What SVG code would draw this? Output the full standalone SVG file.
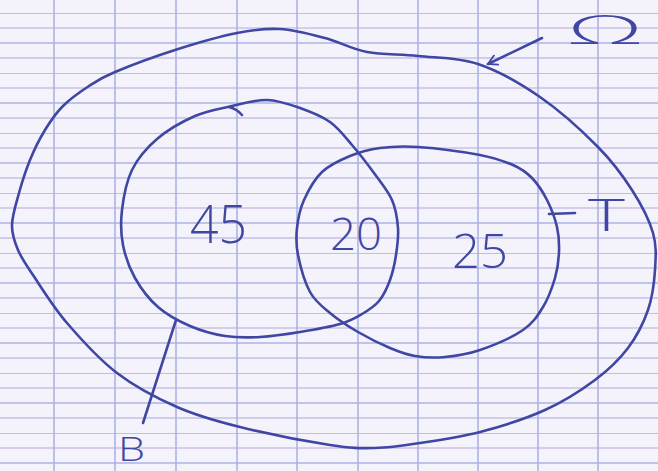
<svg xmlns="http://www.w3.org/2000/svg" width="658" height="471" viewBox="0 0 658 471">
<defs>
<pattern id="hgrid" x="0" y="13" width="658" height="60" patternUnits="userSpaceOnUse">
<line x1="0" y1="0" x2="658" y2="0" stroke="#a7aee2" stroke-width="1.6"/>
<line x1="0" y1="15" x2="658" y2="15" stroke="#c9c3e6" stroke-width="1.4"/>
<line x1="0" y1="30" x2="658" y2="30" stroke="#aeb3e3" stroke-width="1.5"/>
<line x1="0" y1="45" x2="658" y2="45" stroke="#c4c0e6" stroke-width="1.4"/>
</pattern>
<marker id="arrow" viewBox="0 0 12 12" refX="10" refY="6" markerWidth="12" markerHeight="12" markerUnits="userSpaceOnUse" orient="auto">
<path d="M1,1 L10,6 L1,11" fill="none" stroke="#3f47a3" stroke-width="1.8" stroke-linecap="round"/>
</marker>
</defs>
<style>
.ink{fill:none;stroke:#3f47a3;stroke-width:2.6;stroke-linecap:round;stroke-linejoin:round}
.lbl{fill:#3f47a3;font-family:"Open Sans","Lato","Roboto","DejaVu Sans",sans-serif;font-weight:300}
.v{stroke:#a9aee4;stroke-width:1.5}
</style>
<g id="paper">
<rect width="658" height="471" fill="#f4f2fb"/>
<rect width="658" height="471" fill="url(#hgrid)"/>
<line class="v" x1="54" y1="0" x2="54" y2="471"/>
<line class="v" x1="115" y1="0" x2="115" y2="471"/>
<line class="v" x1="176" y1="0" x2="176" y2="471"/>
<line class="v" x1="237" y1="0" x2="237" y2="471"/>
<line class="v" x1="297" y1="0" x2="297" y2="471"/>
<line class="v" x1="358" y1="0" x2="358" y2="471"/>
<line class="v" x1="418" y1="0" x2="418" y2="471"/>
<line class="v" x1="478" y1="0" x2="478" y2="471"/>
<line class="v" x1="538" y1="0" x2="538" y2="471"/>
<line class="v" x1="598" y1="0" x2="598" y2="471"/>
</g>
<g id="node-omega">
<path class="ink" d="M12,225 C12.2,215.5 16,203.8 19,193 S25.7,170.5 30,160 S39.5,139 45,130 S55.7,113.3 63,106 S80.3,91.7 89,86 S100.7,78 115,72 S154.7,56.5 175,50 S219.5,36.5 237,33 S265.3,28.2 280,29 S310.5,34.2 325,38 S351.5,49 367,52 S399.5,54 418,56 S457.7,57.2 478,64 S520,83.2 540,97 S582.7,131.5 598,147 S622.8,175.7 632,190 S649.2,219.7 653,233 S655.8,257.2 655,270 S652.5,297 648,310 S636.8,336.3 628,348 S608.8,369.7 595,380 S564.2,401.3 545,410 S500.8,426.5 480,432 S437.5,440.3 420,443 S390,447.7 375,448 S352.5,448.5 330,445 S265.5,433.3 240,427 S197.5,416 177,407 S135.3,387 117,373 S81,339.3 67,323 S41.2,287.2 33,275 S21.5,258.3 18,250 S11.8,234.5 12,225 Z"/>
</g>
<g id="node-B">
<path class="ink" d="M267,100 C278.3,100.3 289.5,104.3 300,108 S321.3,115.8 330,122 S344.7,136.5 352,145 S367.3,163.8 374,173 S388,190.8 392,200 S397.3,218.8 398,228 S397.3,246.3 396,255 S392.8,272.3 390,280 S383.7,295.3 379,301 S368.5,310.2 362,314 S350.3,321 340,324 S313.3,329.8 300,332 S272.5,336.3 260,337 S236.7,337.8 225,336 S201.2,330.8 190,326 S167.2,315 158,307 S140.8,288.3 135,278 S125.2,256.3 123,245 S120.5,222.5 122,210 S126.2,181.8 132,170 S146.5,148 157,139 S182.5,121.5 195,116 S220,108.7 232,106 S255.7,99.7 267,100 Z"/>
<path class="ink" d="M229,107 Q237,109 242,115" stroke-width="1.6"/>
</g>
<g id="node-T">
<path class="ink" d="M380,148 C391.3,146.5 401.3,145.8 418,147 S464.2,152 480,155 S504.3,161.2 513,165 S526.3,172.2 532,178 S542.8,191.8 547,200 S555,218.3 557,227 S559.3,243.5 559,252 S557.7,268.8 555,278 S548.3,298.3 543,307 S533.5,322.8 523,330 S493,345.5 480,350 S455.8,356 445,357 S424.2,357.5 415,356 S399.5,352 390,348 S368,337.8 358,332 S338,319.7 330,313 S315.3,301.7 310,292 S300.2,265.7 298,255 S296,237.2 297,228 S299.8,209.3 304,200 S314.3,179.3 322,172 S340.3,160 350,156 S368.7,149.5 380,148 Z"/>
</g>
<g id="connectors">
<line class="ink" x1="542" y1="38" x2="488" y2="64" marker-end="url(#arrow)" stroke-width="2.2"/>
<line class="ink" x1="549" y1="214" x2="575" y2="213" stroke-width="2.4"/>
<line class="ink" x1="176" y1="320" x2="143" y2="423" stroke-width="2.4"/>
</g>
<g id="labels">
<text class="lbl" x="190" y="243" font-size="54" textLength="57" lengthAdjust="spacingAndGlyphs">45</text>
<text class="lbl" x="330" y="250" font-size="45" textLength="52" lengthAdjust="spacingAndGlyphs">20</text>
<text class="lbl" x="452" y="268" font-size="48" textLength="56" lengthAdjust="spacingAndGlyphs">25</text>
<text class="lbl" x="567" y="44" font-size="40" textLength="76" lengthAdjust="spacingAndGlyphs">Ω</text>
<text class="lbl" x="588" y="231" font-size="45" textLength="37" lengthAdjust="spacingAndGlyphs">T</text>
<text class="lbl" x="118" y="461" font-size="33" textLength="27" lengthAdjust="spacingAndGlyphs">B</text>
</g>
</svg>
